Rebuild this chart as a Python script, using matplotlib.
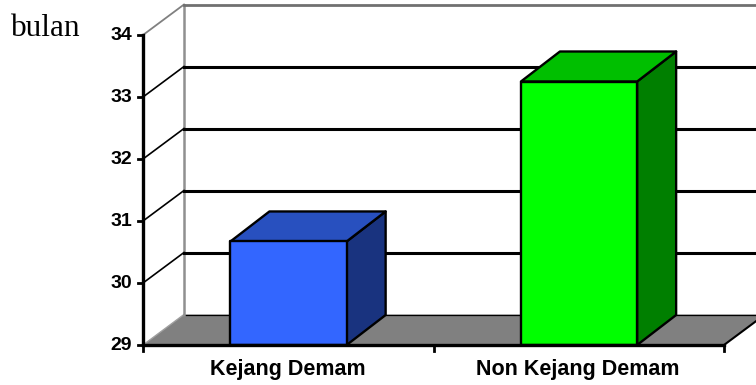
import matplotlib
matplotlib.use('Agg')
from matplotlib import pyplot as plt
from matplotlib.patches import Polygon

categories = ['Kejang Demam', 'Non Kejang Demam']
values = [30.67, 33.25]
front_colors = ['#3366ff', '#00ff00']
top_colors = ['#2850bf', '#00bf00']
side_colors = ['#19337f', '#007f00']
y_ticks = [29, 30, 31, 32, 33, 34]

W, H = 756, 385
fig = plt.figure(figsize=(W/100, H/100), dpi=100)
# front plane of the 3d box, in pixels: x 143-724, y 35-345
ax = fig.add_axes([143/W, 1-345/H, 581/W, 310/H])
ax.set_xlim(0, 2)
ax.set_ylim(29, 34)
ax.axis('off')

# depth offset of wall and of the bars, in data units
dx = 41 / 290.5
dy = 30.5 / 62
bx = 39 / 290.5
by = 30 / 62
bar_w = 0.4

# floor
ax.add_patch(Polygon([(0, 29), (2, 29), (2+dx, 29+dy), (dx, 29+dy)], fc='#808080', ec='none', clip_on=False, zorder=1))
ax.plot([dx, 2+dx], [29+dy, 29+dy], color='black', lw=0.9, zorder=1.5, clip_on=False)
ax.plot([2, 2+dx], [29, 29+dy], color='black', lw=1.5, zorder=1.5, clip_on=False)
ax.plot([0, dx], [29, 29+dy], color='#a0a0a0', lw=1.0, zorder=1.5, clip_on=False)

# wall and gridlines
ax.plot([dx, dx], [29+dy, 34+dy], color='#909090', lw=1.8, zorder=2, clip_on=False)
ax.plot([0, dx], [34, 34+dy], color='#808080', lw=1.3, zorder=2, clip_on=False)
ax.plot([dx, 2+dx], [34+dy, 34+dy], color='#707070', lw=2.0, zorder=2, clip_on=False)
for t in y_ticks[1:-1]:
    ax.plot([0, dx], [t, t+dy], color='black', lw=1.2, zorder=2, clip_on=False)
    ax.plot([dx, 2+dx], [t+dy, t+dy], color='black', lw=2.2, zorder=2, clip_on=False)

# bars
for i, v in enumerate(values):
    x0 = i + 0.5 - bar_w/2 + 0.001
    x1 = x0 + bar_w
    ax.add_patch(Polygon([(x1, 29), (x1+bx, 29+by), (x1+bx, v+by), (x1, v)], fc=side_colors[i], ec='black', lw=1.7, zorder=3, joinstyle='round'))
    ax.add_patch(Polygon([(x0, v), (x1, v), (x1+bx, v+by), (x0+bx, v+by)], fc=top_colors[i], ec='black', lw=1.7, zorder=3, joinstyle='round'))
    ax.add_patch(Polygon([(x0, 29), (x1, 29), (x1, v), (x0, v)], fc=front_colors[i], ec='black', lw=1.7, zorder=4, joinstyle='round'))

# axes lines and ticks
ax.plot([0, 0], [29, 34], color='black', lw=2.4, zorder=5, clip_on=False, solid_capstyle='projecting')
ax.plot([0, 2], [29, 29], color='black', lw=2.4, zorder=5, clip_on=False, solid_capstyle='projecting')
for t in y_ticks:
    ax.plot([-5/290.5, 0], [t, t], color='black', lw=2.0, zorder=5, clip_on=False)
    ax.annotate(str(t), xy=(0, t), xytext=(-11, 0), textcoords='offset pixels', ha='right', va='center',
                fontsize=14, fontweight='bold', family='Liberation Sans', annotation_clip=False)
for t in [0, 1, 2]:
    ax.plot([t, t], [29, 29-6/62], color='black', lw=2.0, zorder=5, clip_on=False)
for i, c in enumerate(categories):
    ax.text(i+0.5-0.002, 29-24.5/62, c, ha='center', va='center', fontsize=15.5, fontweight='bold', family='Liberation Sans')

fig.text(11/W, 1-28/H, 'bulan', fontsize=22.5, family='Liberation Serif', ha='left', va='center')

fig.savefig('out.png', dpi=100)
